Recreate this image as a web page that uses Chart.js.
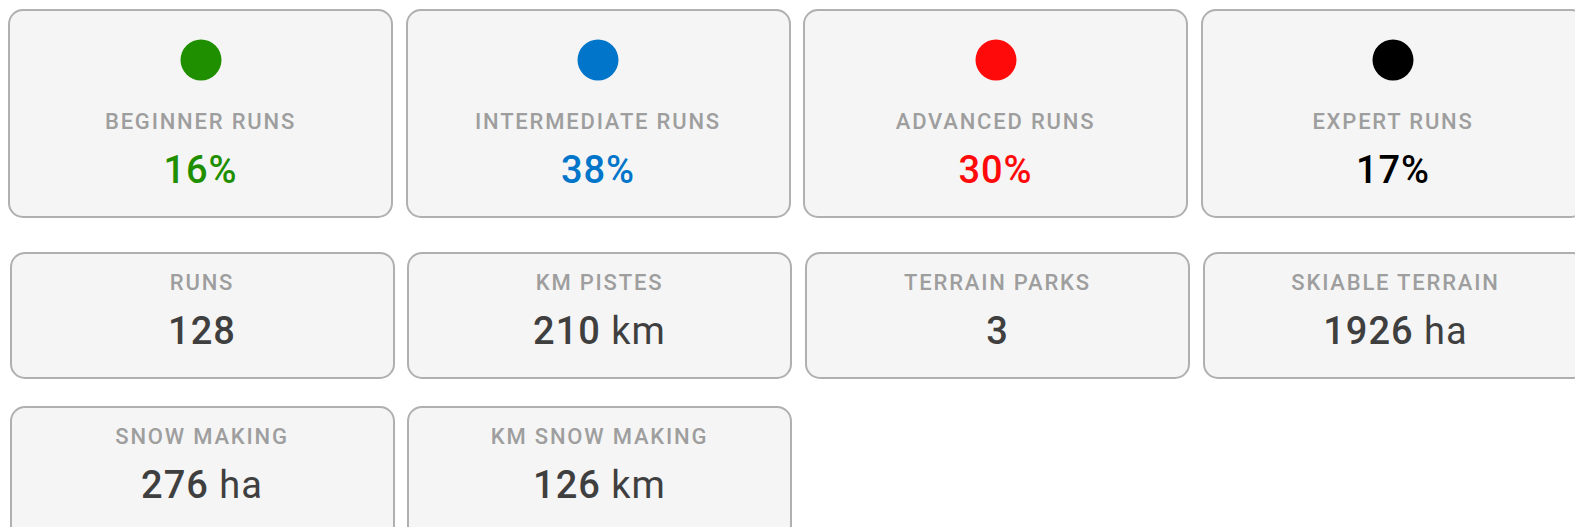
<!DOCTYPE html>
<html>
<head>
<meta charset="utf-8">
<script src="https://cdn.jsdelivr.net/npm/chart.js@4"></script>
<style>
  html, body { margin: 0; padding: 0; background: #fff; width: 1575px; height: 527px; overflow: hidden; font-family: Roboto, "Noto Sans", sans-serif; }
  .card { position: absolute; box-sizing: border-box; background: #f5f5f5; border: 2px solid #b0b0b0; border-radius: 15px; }
  .lbl { position: absolute; left: 0; right: 0; text-align: center; font-size: 22px; line-height: 30px; font-weight: 500; color: #9e9e9e; letter-spacing: 1.8px; }
  .val { position: absolute; left: 0; right: 0; text-align: center; font-size: 38px; line-height: 50px; font-weight: 500; color: #3f3f3f; letter-spacing: 1px; }
  .val .unit { font-weight: 400; }
  .dot { position: absolute; }
</style>
</head>
<body>
<div id="board"></div>
<script>
// run difficulty split
var runLabels = ['BEGINNER RUNS', 'INTERMEDIATE RUNS', 'ADVANCED RUNS', 'EXPERT RUNS'];
var runPercents = [16, 38, 30, 17];
var runColors = ['#1f8f00', '#0075c9', '#ff0a0a', '#000000'];

// resort stats
var statLabels = ['RUNS', 'KM PISTES', 'TERRAIN PARKS', 'SKIABLE TERRAIN', 'SNOW MAKING', 'KM SNOW MAKING'];
var statValues = [128, 210, 3, 1926, 276, 126];
var statUnits = ['', 'km', '', 'ha', 'ha', 'km'];

document.addEventListener("DOMContentLoaded", function() {
    var board = document.getElementById('board');
    var bw = 2; // border width, children sit inside it

    function makeCard(left, top, w, h) {
        var c = document.createElement('div');
        c.className = 'card';
        c.style.left = left + 'px';
        c.style.top = top + 'px';
        c.style.width = w + 'px';
        c.style.height = h + 'px';
        board.appendChild(c);
        return c;
    }

    function addText(card, cls, top, html) {
        var d = document.createElement('div');
        d.className = cls;
        d.style.top = top + 'px';
        d.innerHTML = html;
        card.appendChild(d);
        return d;
    }

    // top row: coloured dot + percentage
    var rowLefts = [8, 405.5, 803, 1200.5];
    var cardW = 385;
    for (var i = 0; i < runLabels.length; i++) {
        var card = makeCard(rowLefts[i], 9, cardW, 209);
        var cv = document.createElement('canvas');
        cv.className = 'dot';
        cv.width = 44; cv.height = 44;
        cv.style.left = (cardW / 2 - 22 - bw) + 'px';
        cv.style.top = (51 - 22 - bw) + 'px';
        card.appendChild(cv);
        new Chart(cv.getContext('2d'), {
            type: 'pie',
            data: {
                labels: [runLabels[i]],
                datasets: [{ data: [runPercents[i]], backgroundColor: [runColors[i]], borderWidth: 0 }]
            },
            options: {
                responsive: false,
                animation: false,
                layout: { padding: 1.5 },
                plugins: { legend: { display: false }, tooltip: { enabled: false } }
            }
        });
        addText(card, 'lbl', 113 - 15 - bw, runLabels[i]);
        var v = addText(card, 'val', 161 - 25 - bw, runPercents[i] + '%');
        v.style.color = runColors[i];
    }

    // stat rows
    var statLefts = [9.5, 407, 805, 1203];
    for (var j = 0; j < statLabels.length; j++) {
        var row = Math.floor(j / 4);
        var top = row === 0 ? 251.5 : 405.5;
        var c2 = makeCard(statLefts[j % 4], top, cardW, row === 0 ? 127 : 150);
        addText(c2, 'lbl', 31.5 - 15 - bw, statLabels[j]);
        var txt = statValues[j] + (statUnits[j] ? ' <span class="unit">' + statUnits[j] + '</span>' : '');
        addText(c2, 'val', 79 - 25 - bw, txt);
    }
});
</script>
</body>
</html>
